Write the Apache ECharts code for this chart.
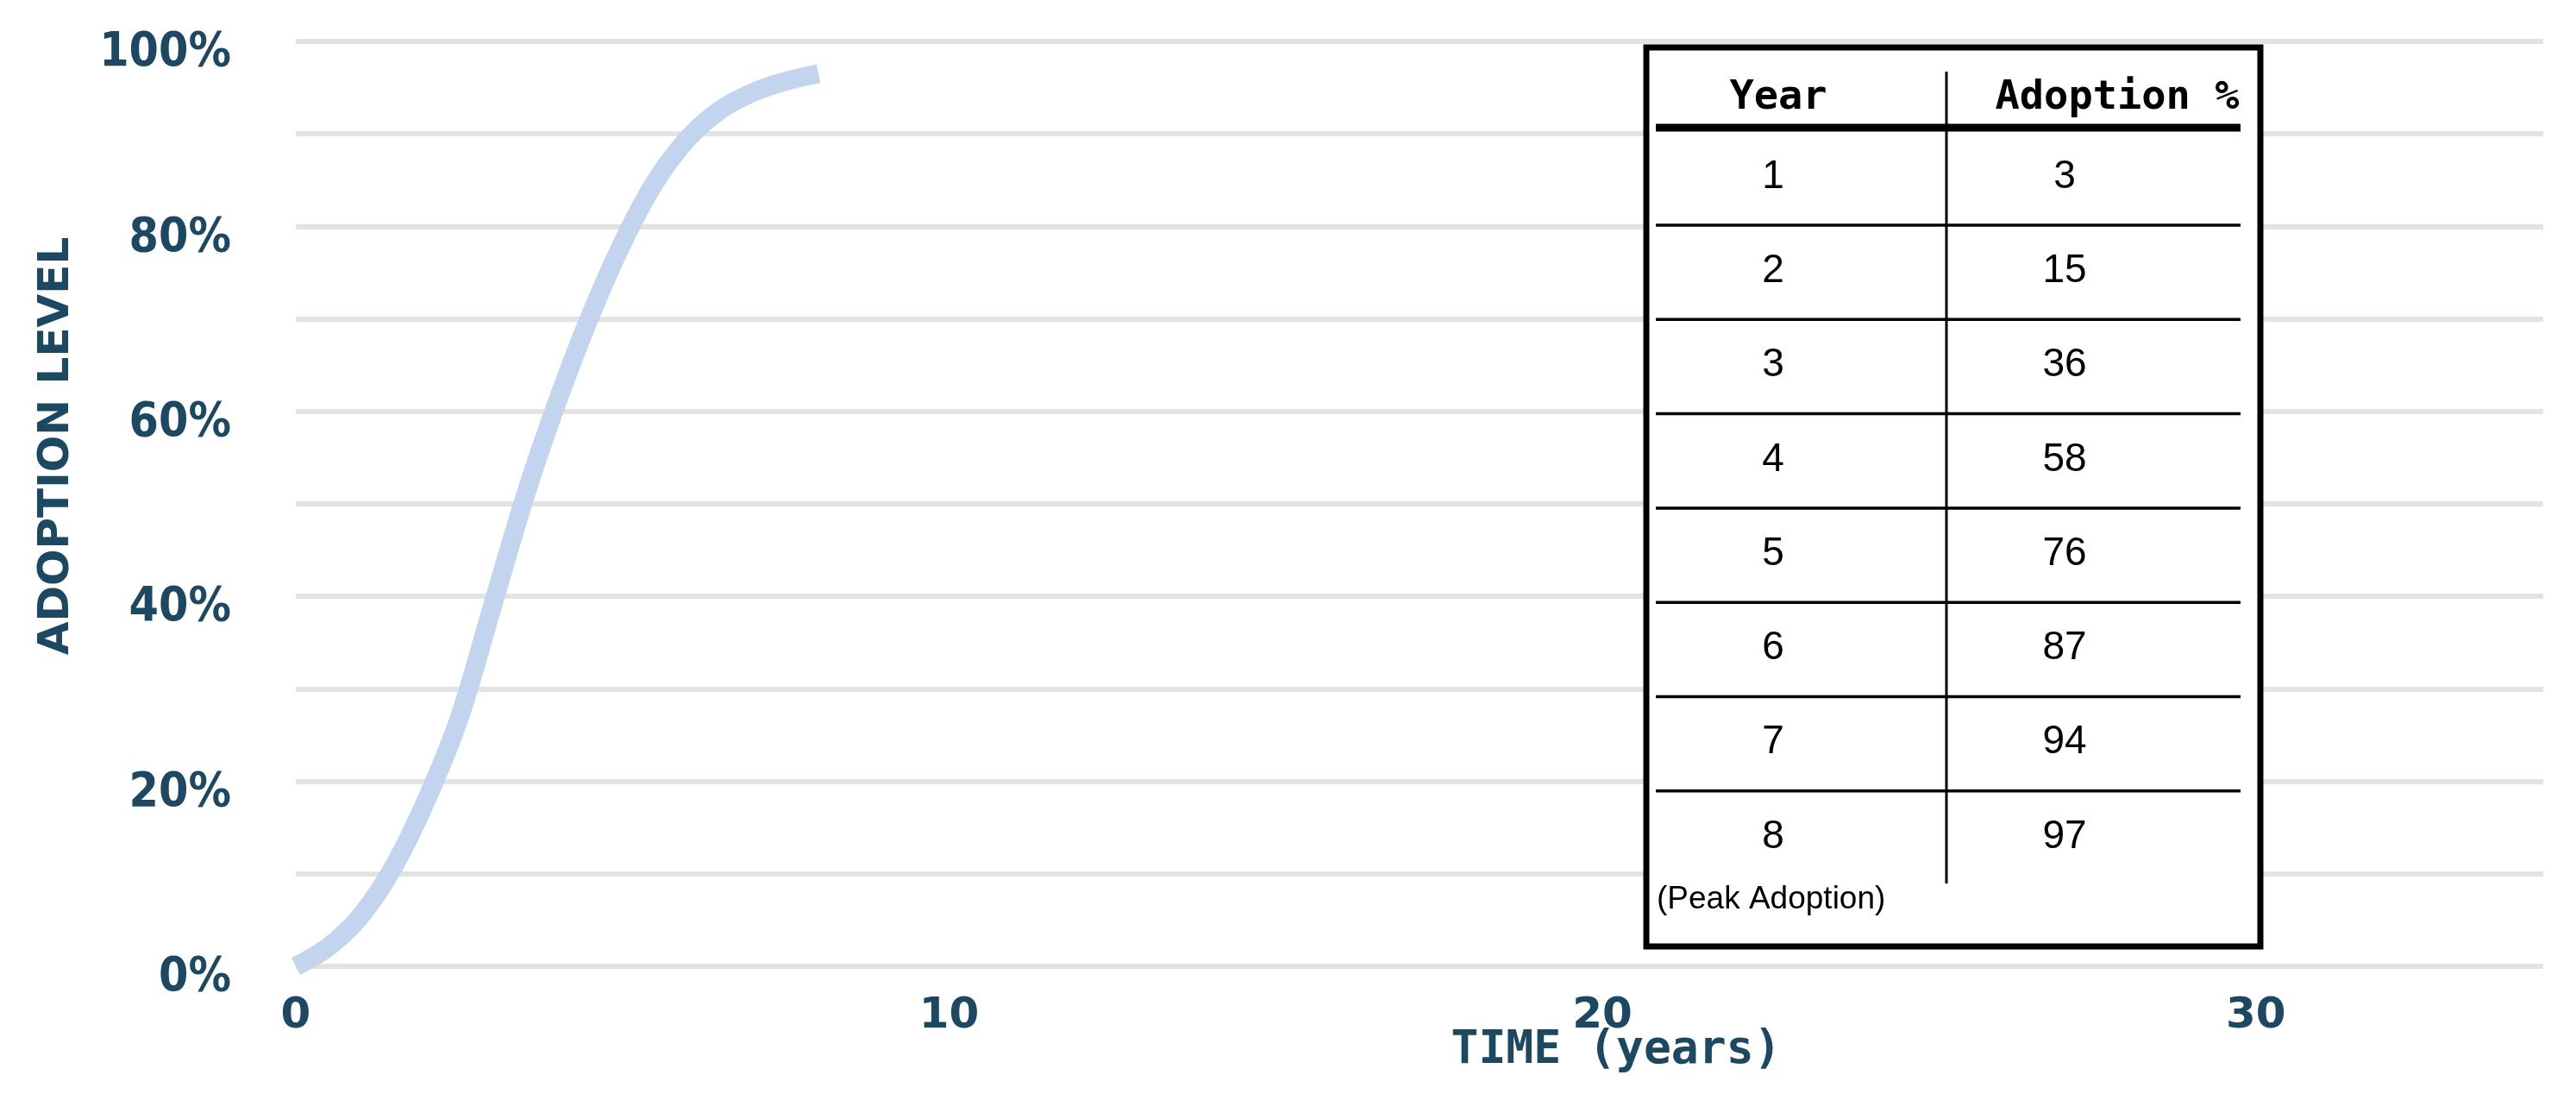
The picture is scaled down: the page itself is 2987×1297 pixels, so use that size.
<!DOCTYPE html>
<html>
<head>
<meta charset="utf-8">
<script src="https://cdn.jsdelivr.net/npm/echarts@6/dist/echarts.min.js"></script>
<style>
html,body{margin:0;padding:0;background:#fff;}
#chart{width:2987px;height:1297px;}
</style>
</head>
<body>
<div id="chart"></div>
<script>
// ---- data ----
// curve values every half year (years → adoption level %)
const curveYears = [0, 0.5, 1, 1.5, 2, 2.5, 3, 3.5, 4, 4.5, 5, 5.5, 6, 6.5, 7, 7.5, 8];
const curveLevels = [0, 2.1, 5.5, 10.8, 18, 26.8, 38.7, 50.6, 61, 70.2, 78.2, 84.8, 89.5, 92.6, 94.5, 95.7, 96.5];
// values printed in the table
const tableYears = [1, 2, 3, 4, 5, 6, 7, 8];
const tableAdoption = [3, 15, 36, 58, 76, 87, 94, 97];
const xTickValues = [0, 10, 20, 30];
const yTickValues = [0, 20, 40, 60, 80, 100];
const tableHeader = ['Year', 'Adoption %'];
const tableNote = '(Peak Adoption)';
const xAxisName = 'TIME (years)';
const yAxisName = 'ADOPTION LEVEL';

// ---- styling ----
const axisColor = '#1d4862';
const chart = echarts.init(document.getElementById('chart'), null, {renderer: 'canvas'});

// table layout (pixels)
const T = {
  left: 1909, top: 55, width: 712, height: 1042,
  divX: 2257, divTop: 83, divBottom: 1024,
  ruleLeft: 1920, ruleRight: 2598,
  headerY: 114, headerRuleY: 148,
  firstLineY: 261, rowStep: 109.3, firstRowY: 205,
  yearX: 2056, valX: 2394, headerYearX: 2062, headerValX: 2455
};

const g = [];
g.push({type: 'rect', z: 100, shape: {x: T.left, y: T.top, width: T.width, height: T.height},
  style: {fill: '#fff', stroke: '#000', lineWidth: 7}});
g.push({type: 'line', z: 101, shape: {x1: T.divX, y1: T.divTop, x2: T.divX, y2: T.divBottom},
  style: {stroke: '#000', lineWidth: 3}});
g.push({type: 'line', z: 101, shape: {x1: T.ruleLeft, y1: T.headerRuleY, x2: T.ruleRight, y2: T.headerRuleY},
  style: {stroke: '#000', lineWidth: 9}});
for (let i = 0; i < tableYears.length - 1; i++) {
  const y = T.firstLineY + i * T.rowStep;
  g.push({type: 'line', z: 101, shape: {x1: T.ruleLeft, y1: y, x2: T.ruleRight, y2: y},
    style: {stroke: '#000', lineWidth: 3.5}});
}
const headFont = 'bold 47px "DejaVu Sans Mono"';
g.push({type: 'text', z: 102, x: T.headerYearX, y: T.headerY,
  style: {text: tableHeader[0], font: headFont, fill: '#000', align: 'center', verticalAlign: 'middle'}});
g.push({type: 'text', z: 102, x: T.headerValX, y: T.headerY,
  style: {text: tableHeader[1], font: headFont, fill: '#000', align: 'center', verticalAlign: 'middle'}});
const cellFont = '46px "Liberation Sans", sans-serif';
tableYears.forEach((yr, i) => {
  const y = T.firstRowY + i * T.rowStep;
  g.push({type: 'text', z: 102, x: T.yearX, y: y,
    style: {text: String(yr), font: cellFont, fill: '#000', align: 'center', verticalAlign: 'middle'}});
  g.push({type: 'text', z: 102, x: T.valX, y: y,
    style: {text: String(tableAdoption[i]), font: cellFont, fill: '#000', align: 'center', verticalAlign: 'middle'}});
});
g.push({type: 'text', z: 102, x: 1921, y: 1043,
  style: {text: tableNote, font: '37px "Liberation Sans", sans-serif', fill: '#000', align: 'left', verticalAlign: 'middle'}});

const option = {
  animation: false,
  backgroundColor: '#fff',
  grid: {left: 343, right: 38, top: 48, bottom: 177},
  xAxis: {
    type: 'value', min: 0, max: 34.4, interval: 10,
    name: xAxisName, nameLocation: 'middle', nameGap: 72, nameMoveOverlap: false,
    nameTextStyle: {color: axisColor, fontFamily: 'DejaVu Sans Mono', fontWeight: 'bold', fontSize: 53, padding: [0, 0, 0, 456]},
    axisLine: {show: false}, axisTick: {show: false}, splitLine: {show: false},
    axisLabel: {
      color: axisColor, fontFamily: 'DejaVu Sans', fontWeight: 'bold', fontSize: 50, margin: 33,
      showMaxLabel: false,
      formatter: v => xTickValues.includes(v) ? String(v) : ''
    }
  },
  yAxis: {
    type: 'value', min: 0, max: 100, interval: 10,
    name: yAxisName, nameLocation: 'middle', nameRotate: 90, nameGap: 252,
    nameTextStyle: {color: axisColor, fontFamily: 'DejaVu Sans', fontWeight: 'bold', fontSize: 50, padding: [0, 0, 0, 134]},
    axisLine: {show: false}, axisTick: {show: false},
    splitLine: {show: true, lineStyle: {color: '#e3e3e3', width: 6}},
    axisLabel: {
      color: axisColor, fontFamily: '"DejaVu Sans Condensed", "DejaVu Sans"', fontWeight: 'bold', fontSize: 55, margin: 75,
      verticalAlign: 'top', lineHeight: 28,
      formatter: v => yTickValues.includes(v) ? v + '%' : ''
    }
  },
  series: [{
    type: 'line',
    data: curveYears.map((y, i) => [y, curveLevels[i]]),
    smooth: 0.35,
    symbol: 'none',
    lineStyle: {color: '#c3d4ee', width: 22, cap: 'butt'},
    z: 5
  }],
  graphic: g
};
chart.setOption(option);
</script>
</body>
</html>
